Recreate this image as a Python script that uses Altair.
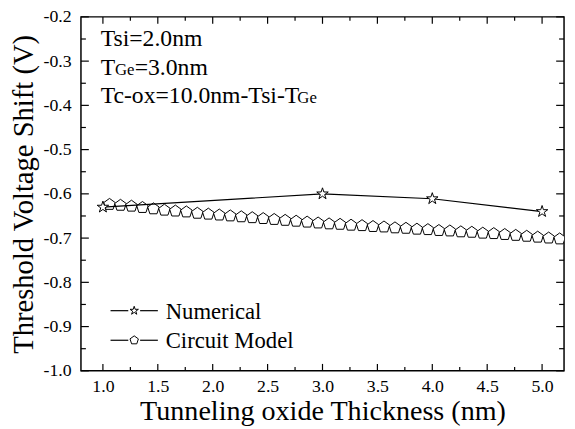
import altair as alt
import pandas as pd

# ---------------- data ----------------
num_x = [1.0, 3.0, 4.0, 5.0]
num_y = [-0.630, -0.600, -0.611, -0.640]

circ_x = [1.06, 1.16, 1.26, 1.36, 1.46, 1.56, 1.66, 1.76, 1.86, 1.96,
          2.06, 2.16, 2.26, 2.36, 2.46, 2.56, 2.66, 2.76, 2.86, 2.96,
          3.06, 3.16, 3.26, 3.36, 3.46, 3.56, 3.66, 3.76, 3.86, 3.96,
          4.06, 4.16, 4.26, 4.36, 4.46, 4.56, 4.66, 4.76, 4.86, 4.96,
          5.06, 5.16]
circ_y = [-0.624, -0.626, -0.628, -0.631, -0.634, -0.637, -0.639, -0.641, -0.644, -0.646,
          -0.648, -0.650, -0.652, -0.654, -0.656, -0.658, -0.660, -0.662, -0.664, -0.666,
          -0.668, -0.669, -0.671, -0.672, -0.674, -0.675, -0.677, -0.678, -0.680, -0.681,
          -0.683, -0.684, -0.686, -0.687, -0.689, -0.690, -0.692, -0.694, -0.696, -0.698,
          -0.700, -0.702]

x_major = [1.0, 1.5, 2.0, 2.5, 3.0, 3.5, 4.0, 4.5, 5.0]
x_minor = [1.25, 1.75, 2.25, 2.75, 3.25, 3.75, 4.25, 4.75]
y_major = [-0.2, -0.3, -0.4, -0.5, -0.6, -0.7, -0.8, -0.9, -1.0]
y_minor = [-0.25, -0.35, -0.45, -0.55, -0.65, -0.75, -0.85, -0.95]

series_names = ["Numerical", "Circuit Model"]
note_lines = ["Tsi=2.0nm", "T", "Ge", "=3.0nm", "Tc-ox=10.0nm-Tsi-T", "Ge"]

x_title = "Tunneling oxide Thickness  (nm)"
y_title = "Threshold Voltage Shift (V)"

# ---------------- style ----------------
W, H = 490, 359
FONT = "Liberation Serif"
XDOM = [0.8, 5.2]
YDOM = [-1.0, -0.2]

STAR = ("M0,-1 L0.225,-0.309 L0.951,-0.309 L0.363,0.118 L0.588,0.809 "
        "L0,0.382 L-0.588,0.809 L-0.363,0.118 L-0.951,-0.309 L-0.225,-0.309 Z")
PENT = "M0,-1 L0.951,-0.309 L0.588,0.809 L-0.588,0.809 L-0.951,-0.309 Z"

xs = alt.Scale(domain=XDOM, nice=False, zero=False)
ys = alt.Scale(domain=YDOM, nice=False, zero=False)

num_df = pd.DataFrame({"x": num_x, "y": num_y})
circ_df = pd.DataFrame({"x": circ_x, "y": circ_y})

LBL = "replace(format(datum.value, '.1f'), '\u2212', '-')"

AX_STYLE = dict(ticks=False, domain=False, grid=False,
                labelFont=FONT, labelFontSize=18, labelColor="black",
                titleFont=FONT, titleFontWeight="normal", titleColor="black")

xaxis = alt.Axis(values=x_major, labelExpr=LBL, labelPadding=7,
                 title=x_title, titlePadding=1, titleFontSize=28.5, **AX_STYLE)
yaxis = alt.Axis(values=y_major, labelExpr=LBL, labelPadding=10,
                 title=y_title, titlePadding=5, titleFontSize=29, **AX_STYLE)

def XE(f):
    return alt.X(f + ":Q", scale=xs, axis=xaxis)

def YE(f):
    return alt.Y(f + ":Q", scale=ys, axis=yaxis)

circ_line = alt.Chart(circ_df).mark_line(color="black", strokeWidth=1, clip=True).encode(
    x=XE("x"), y=YE("y"))
circ_pts = alt.Chart(circ_df).mark_point(shape=PENT, size=150, filled=True, fill="white",
                                          stroke="black", strokeWidth=1, opacity=1,
                                          clip=True).encode(x=XE("x"), y=YE("y"))

num_line = alt.Chart(num_df).mark_line(color="black", strokeWidth=1.2, clip=True).encode(
    x=XE("x"), y=YE("y"))
num_pts = alt.Chart(num_df).mark_point(shape=STAR, size=150, filled=True, fill="white",
                                        stroke="black", strokeWidth=1, opacity=1,
                                        clip=True).encode(x=XE("x"), y=YE("y"))

# ---- inward ticks on all four sides ----
def xticks(vals, ln):
    d = pd.DataFrame({"x": vals})
    b = alt.Chart(d).mark_rule(color="black", strokeWidth=1.2).encode(
        x=XE("x"), y=alt.value(H), y2=alt.value(H - ln))
    t = alt.Chart(d).mark_rule(color="black", strokeWidth=1.2).encode(
        x=XE("x"), y=alt.value(0), y2=alt.value(ln))
    return b + t

def yticks(vals, ln):
    d = pd.DataFrame({"y": vals})
    l = alt.Chart(d).mark_rule(color="black", strokeWidth=1.2).encode(
        y=YE("y"), x=alt.value(0), x2=alt.value(ln))
    r = alt.Chart(d).mark_rule(color="black", strokeWidth=1.2).encode(
        y=YE("y"), x=alt.value(W), x2=alt.value(W - ln))
    return l + r

ticks = xticks(x_major, 7) + xticks(x_minor, 4) + yticks(y_major, 8) + yticks(y_minor, 5)

# ---- annotations ----
one = pd.DataFrame({"a": [0]})
def txt(s, x, y, size):
    return alt.Chart(one).mark_text(text=s, font=FONT, fontSize=size, align="left",
                                    baseline="alphabetic", color="black").encode(
        x=alt.value(x), y=alt.value(y))

notes = (txt(note_lines[0], 20, 30, 24)
         + txt(note_lines[1], 20, 59, 24)
         + txt(note_lines[2], 34.5, 59, 17)
         + txt(note_lines[3], 54.5, 59, 24)
         + txt(note_lines[4], 20, 87, 24)
         + txt(note_lines[5], 219.5, 87, 17))

# ---- legend ----
def leg_row(name, shape, y):
    seg1 = alt.Chart(one).mark_rule(color="black", strokeWidth=1.2).encode(
        x=alt.value(30), x2=alt.value(48), y=alt.value(y))
    seg2 = alt.Chart(one).mark_rule(color="black", strokeWidth=1.2).encode(
        x=alt.value(60), x2=alt.value(78), y=alt.value(y))
    sym = alt.Chart(one).mark_point(shape=shape, size=80, filled=True, fill="white",
                                     stroke="black", strokeWidth=1, opacity=1).encode(
        x=alt.value(54), y=alt.value(y))
    lab = alt.Chart(one).mark_text(text=name, font=FONT, fontSize=23, align="left",
                                   baseline="middle", color="black").encode(
        x=alt.value(86), y=alt.value(y + 1))
    return seg1 + seg2 + sym + lab

legend = leg_row(series_names[0], STAR, 298) + leg_row(series_names[1], PENT, 328)

chart = alt.layer(
    ticks, circ_line, circ_pts, num_line, num_pts, notes, legend
).properties(
    width=W, height=H,
    background="white",
    autosize=alt.AutoSizeParams(type="none"),
    padding={"left": 74, "top": 6, "right": 3, "bottom": 56},
).configure_view(stroke="black", strokeWidth=1.5)

chart.save("out.html", embed_options={"renderer": "svg", "actions": False})
